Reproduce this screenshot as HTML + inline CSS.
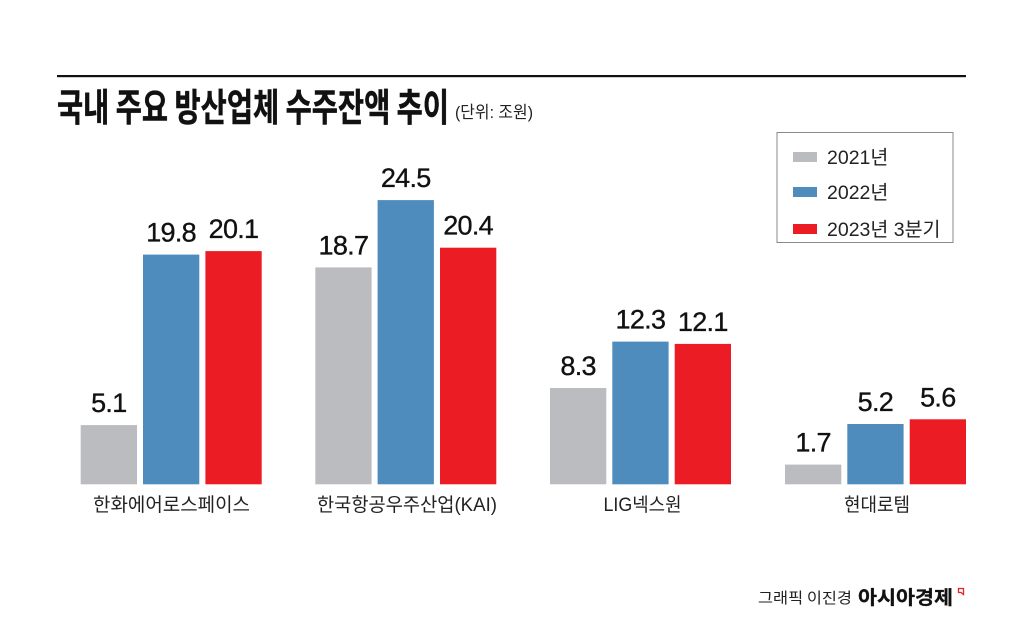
<!DOCTYPE html>
<html><head><meta charset="utf-8">
<style>
html,body{margin:0;padding:0;background:#fff;}
body{width:1024px;height:634px;overflow:hidden;}
svg{display:block;}
.v{font-family:"Liberation Sans","Noto Sans CJK KR",sans-serif;font-size:27px;fill:#111;stroke:#111;stroke-width:0.35;text-anchor:middle;letter-spacing:-0.7px;}
.c{font-family:"Liberation Sans","Noto Sans CJK KR",sans-serif;font-size:19px;fill:#222;}
.l{font-family:"Liberation Sans","Noto Sans CJK KR",sans-serif;font-size:19.5px;fill:#222;}
</style></head>
<body>
<svg width="1024" height="634" viewBox="0 0 1024 634" xmlns="http://www.w3.org/2000/svg">
<rect width="1024" height="634" fill="#fff"/>
<rect x="57" y="75" width="909" height="2.2" fill="#111"/>
<text x="57" y="121" font-family="'Noto Sans CJK KR',sans-serif" font-weight="bold" font-size="38" fill="#111" stroke="#111" stroke-width="0.5" textLength="392" lengthAdjust="spacingAndGlyphs">국내 주요 방산업체 수주잔액 추이</text>
<text x="455" y="118" font-family="'Liberation Sans','Noto Sans CJK KR',sans-serif" font-size="17" fill="#222" textLength="78" lengthAdjust="spacingAndGlyphs">(단위: 조원)</text>

<rect x="777" y="132.5" width="176" height="110" fill="#fff" stroke="#8a8a8a" stroke-width="1"/>
<rect x="793" y="152" width="24" height="10" fill="#bbbcbf"/>
<text class="l" x="827" y="164">2021년</text>
<rect x="793" y="187" width="24" height="10" fill="#4f8cbe"/>
<text class="l" x="827" y="199">2022년</text>
<rect x="793" y="224" width="24" height="10" fill="#ec1c24"/>
<text class="l" x="827" y="236">2023년 3분기</text>

<!-- group 1 -->
<rect x="80.7" y="425.1" width="56.3" height="59.2" fill="#bbbcbf"/>
<rect x="143" y="254.6" width="56.3" height="229.7" fill="#4f8cbe"/>
<rect x="205.4" y="251.1" width="56.3" height="233.2" fill="#ec1c24"/>
<text class="v" x="108.8" y="412">5.1</text>
<text class="v" x="171.1" y="241.6">19.8</text>
<text class="v" x="233.5" y="238.1">20.1</text>
<text class="c" x="93" y="511" textLength="157" lengthAdjust="spacingAndGlyphs">한화에어로스페이스</text>

<!-- group 2 -->
<rect x="315.3" y="267.4" width="56.3" height="216.9" fill="#bbbcbf"/>
<rect x="377.6" y="200.1" width="56.3" height="284.2" fill="#4f8cbe"/>
<rect x="440" y="247.7" width="56.3" height="236.6" fill="#ec1c24"/>
<text class="v" x="343.4" y="254.4">18.7</text>
<text class="v" x="405.7" y="187.1">24.5</text>
<text class="v" x="468.1" y="234.7">20.4</text>
<text class="c" x="317" y="511" textLength="180" lengthAdjust="spacingAndGlyphs">한국항공우주산업(KAI)</text>

<!-- group 3 -->
<rect x="550" y="388" width="56.3" height="96.3" fill="#bbbcbf"/>
<rect x="612.3" y="341.6" width="56.3" height="142.7" fill="#4f8cbe"/>
<rect x="674.7" y="343.9" width="56.3" height="140.4" fill="#ec1c24"/>
<text class="v" x="578.1" y="375">8.3</text>
<text class="v" x="640.4" y="328.6">12.3</text>
<text class="v" x="702.8" y="330.9">12.1</text>
<text class="c" x="603.5" y="511" textLength="78" lengthAdjust="spacingAndGlyphs">LIG넥스원</text>

<!-- group 4 -->
<rect x="785" y="464.6" width="56.3" height="19.7" fill="#bbbcbf"/>
<rect x="847.3" y="424" width="56.3" height="60.3" fill="#4f8cbe"/>
<rect x="909.7" y="419.3" width="56.3" height="65" fill="#ec1c24"/>
<text class="v" x="813.1" y="451.6">1.7</text>
<text class="v" x="875.4" y="411">5.2</text>
<text class="v" x="937.8" y="406.3">5.6</text>
<text class="c" x="844" y="511" textLength="66" lengthAdjust="spacingAndGlyphs">현대로템</text>

<!-- footer -->
<text x="758" y="603" font-family="'Noto Sans CJK KR',sans-serif" font-size="15" fill="#222" textLength="94" lengthAdjust="spacingAndGlyphs">그래픽 이진경</text>
<text x="858" y="604" font-family="'Noto Sans CJK KR',sans-serif" font-weight="bold" font-size="19" fill="#111" stroke="#111" stroke-width="0.3" textLength="95" lengthAdjust="spacingAndGlyphs">아시아경제</text>
<path d="M958.5 588.5 L963.5 588.5 L963.5 594.5 L961 592.5 L958.5 592.5 Z" fill="none" stroke="#e8202a" stroke-width="1.3"/>
</svg>
</body></html>
